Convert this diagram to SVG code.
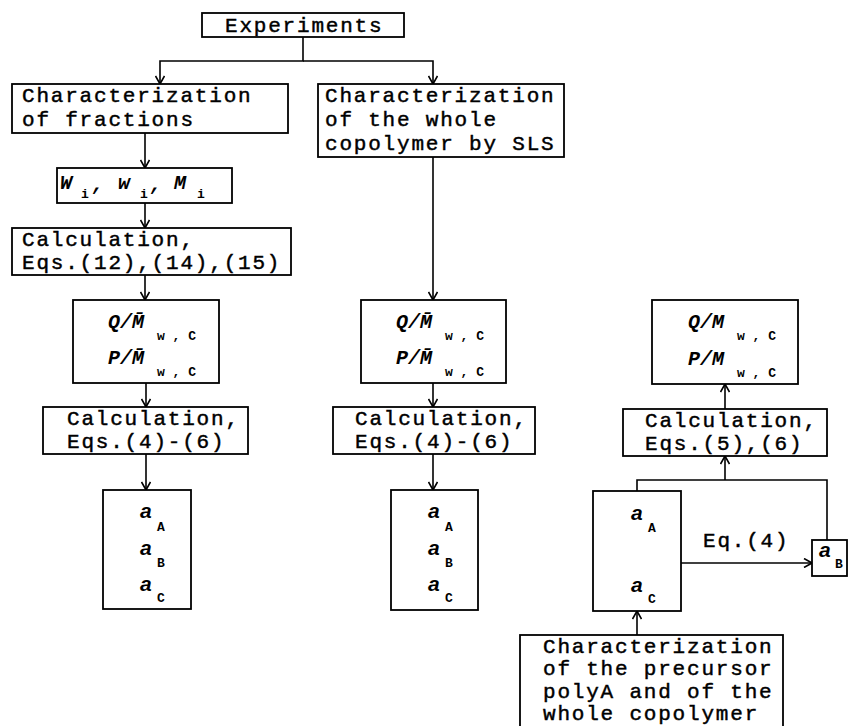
<svg xmlns="http://www.w3.org/2000/svg" width="848" height="726" viewBox="0 0 848 726">
<style>
.box{fill:none;stroke:#000;stroke-width:1.8}
.c{fill:none;stroke:#000;stroke-width:1.6}
.t{font-family:"Liberation Mono","DejaVu Sans Mono",monospace;font-size:21px;letter-spacing:1.8px;fill:#000;stroke:#000;stroke-width:0.45}
.m{font-family:"Liberation Mono","DejaVu Sans Mono",monospace;font-size:20px;font-weight:bold;font-style:italic;fill:#000}
.s{font-family:"Liberation Mono","DejaVu Sans Mono",monospace;font-size:13px;font-weight:bold;fill:#000}
.a{font-family:"Liberation Sans","DejaVu Sans",sans-serif;font-size:21px;font-weight:bold;font-style:italic;fill:#000}
</style>
<defs>
<marker id="arr" viewBox="0 0 10 10" refX="10" refY="5" markerWidth="10" markerHeight="10" markerUnits="userSpaceOnUse" orient="auto">
<path d="M2,0.5 L10,5 L2,9.5" fill="none" stroke="#000" stroke-width="1.6"/>
</marker>
</defs>
<rect width="848" height="726" fill="#fff"/>

<g id="connectors">
<path class="c" d="M303,37 V61 H160 V84" marker-end="url(#arr)"/>
<path class="c" d="M303,61 H433 V84" marker-end="url(#arr)"/>
<path class="c" d="M145,133 V168" marker-end="url(#arr)"/>
<path class="c" d="M145,203 V228" marker-end="url(#arr)"/>
<path class="c" d="M145,275 V300" marker-end="url(#arr)"/>
<path class="c" d="M146,383 V407" marker-end="url(#arr)"/>
<path class="c" d="M146,454 V490" marker-end="url(#arr)"/>
<path class="c" d="M433,157 V300" marker-end="url(#arr)"/>
<path class="c" d="M433,383 V407" marker-end="url(#arr)"/>
<path class="c" d="M433,454 V490" marker-end="url(#arr)"/>
<path class="c" d="M725,409 V384" marker-end="url(#arr)"/>
<path class="c" d="M725,480 V456" marker-end="url(#arr)"/>
<path class="c" d="M637,491 V480 H827 V540"/>
<path class="c" d="M681,563 H812" marker-end="url(#arr)"/>
<path class="c" d="M637,635 V611" marker-end="url(#arr)"/>
<text class="t" x="703" y="547">Eq.(4)</text>
</g>

<g id="experiments">
<rect class="box" x="202" y="13" width="202" height="24"/>
<text class="t" x="225" y="32">Experiments</text>
</g>

<g id="char-fractions">
<rect class="box" x="12" y="84" width="276" height="49"/>
<text class="t" x="22" y="102">Characterization</text>
<text class="t" x="22" y="126">of fractions</text>
</g>

<g id="char-whole">
<rect class="box" x="318" y="84" width="246" height="73"/>
<text class="t" x="325" y="102">Characterization</text>
<text class="t" x="325" y="126">of the whole</text>
<text class="t" x="325" y="150">copolymer by SLS</text>
</g>

<g id="wwm">
<rect class="box" x="57" y="168" width="175" height="35"/>
<text class="m" x="60" y="189">W</text><text class="s" x="81" y="198">i</text><text class="m" x="92" y="190">,</text>
<text class="m" x="118" y="189">w</text><text class="s" x="140" y="198">i</text><text class="m" x="150" y="190">,</text>
<text class="m" x="174" y="189">M</text><text class="s" x="197" y="198">i</text>
</g>

<g id="calc1">
<rect class="box" x="12" y="228" width="279" height="47"/>
<text class="t" x="22" y="246">Calculation,</text>
<text class="t" x="22" y="269">Eqs.(12),(14),(15)</text>
</g>

<g id="qm1">
<rect class="box" x="73" y="300" width="146" height="83"/>
<text class="m" x="108" y="328">Q/M̄</text><text class="s" x="157" y="340">w , C</text>
<text class="m" x="108" y="364">P/M̄</text><text class="s" x="157" y="376">w , C</text>
</g>

<g id="calc2">
<rect class="box" x="43" y="407" width="205" height="47"/>
<text class="t" x="67" y="425">Calculation,</text>
<text class="t" x="67" y="448">Eqs.(4)-(6)</text>
</g>

<g id="a1">
<rect class="box" x="103" y="490" width="88" height="119"/>
<text class="a" x="140" y="518">a</text><text class="s" x="157" y="531">A</text>
<text class="a" x="140" y="555">a</text><text class="s" x="157" y="567">B</text>
<text class="a" x="140" y="591">a</text><text class="s" x="157" y="602">C</text>
</g>

<g id="qm2">
<rect class="box" x="361" y="300" width="145" height="83"/>
<text class="m" x="396" y="328">Q/M̄</text><text class="s" x="445" y="340">w , C</text>
<text class="m" x="396" y="364">P/M̄</text><text class="s" x="445" y="376">w , C</text>
</g>

<g id="calc3">
<rect class="box" x="333" y="407" width="202" height="47"/>
<text class="t" x="355" y="425">Calculation,</text>
<text class="t" x="355" y="448">Eqs.(4)-(6)</text>
</g>

<g id="a2">
<rect class="box" x="391" y="490" width="87" height="120"/>
<text class="a" x="428" y="518">a</text><text class="s" x="445" y="531">A</text>
<text class="a" x="428" y="555">a</text><text class="s" x="445" y="567">B</text>
<text class="a" x="428" y="591">a</text><text class="s" x="445" y="602">C</text>
</g>

<g id="qm3">
<rect class="box" x="652" y="300" width="146" height="84"/>
<text class="m" x="688" y="328">Q/M</text><text class="s" x="737" y="340">w , C</text>
<text class="m" x="688" y="365">P/M</text><text class="s" x="737" y="377">w , C</text>
</g>

<g id="calc4">
<rect class="box" x="623" y="409" width="204" height="47"/>
<text class="t" x="645" y="427">Calculation,</text>
<text class="t" x="645" y="450">Eqs.(5),(6)</text>
</g>

<g id="a3">
<rect class="box" x="593" y="491" width="88" height="120"/>
<text class="a" x="631" y="520">a</text><text class="s" x="648" y="532">A</text>
<text class="a" x="631" y="592">a</text><text class="s" x="648" y="603">C</text>
</g>

<g id="aB">
<rect class="box" x="812" y="540" width="35" height="36"/>
<text class="a" x="819" y="557">a</text><text class="s" x="835" y="568">B</text>
</g>

<g id="char-precursor">
<rect class="box" x="520" y="635" width="263" height="100"/>
<text class="t" x="543" y="653">Characterization</text>
<text class="t" x="543" y="675">of the precursor</text>
<text class="t" x="543" y="698">polyA and of the</text>
<text class="t" x="543" y="720">whole copolymer</text>
</g>
</svg>
